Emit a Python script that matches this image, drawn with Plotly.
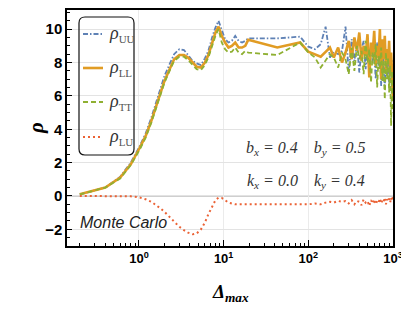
import plotly.graph_objects as go

# ---- data ----
delta_max = [0.2, 0.4, 0.6, 0.8, 1.0, 1.2, 1.4, 1.6, 1.8, 2.0, 2.3, 2.6, 3.0, 3.4, 3.8, 4.3, 4.8,
             5.4, 6.0, 6.6, 7.3, 8.0, 8.7, 9.5, 10.4, 11.4, 12.5, 13.7, 15, 16.5, 18, 19.5, 43, 80,
             100, 120, 140, 160, 180, 200, 225, 250,
             275, 300, 325, 350, 375, 400, 425, 450, 475, 500, 525, 550, 575, 600, 625,
             650, 675, 700, 725, 750, 775, 800, 825, 850, 875, 900, 925, 950, 975, 1000]

rho_LL = [0.1, 0.5, 1.1, 1.9, 2.8, 3.6, 4.5, 5.4, 6.2, 6.9, 7.6, 8.2, 8.45, 8.45, 8.3, 8.0, 7.75,
          7.7, 8.0, 8.45, 9.2, 9.8, 10.15, 9.6, 9.2, 8.9, 9.0, 9.2, 8.9, 8.9, 9.0, 9.36, 8.9, 9.2,
          8.65, 8.5, 8.35, 8.64, 8.9, 8.3, 8.9, 8.0,
          8.6, 9.3, 8.2, 9.5, 8.7, 9.8, 8.1, 9.0, 8.4, 9.7, 7.1, 9.2, 8.5, 9.9, 7.8,
          9.0, 8.3, 10.0, 7.0, 9.4, 8.2, 9.6, 7.5, 8.8, 7.9, 9.3, 7.2, 8.6, 6.8, 6.0]

rho_UU = [0.1, 0.5, 1.15, 2.0, 2.9, 3.75, 4.7, 5.6, 6.4, 7.2, 7.9, 8.5, 8.8, 8.75, 8.45, 8.1, 7.95,
          7.85, 8.25, 8.7, 9.5, 10.1, 10.5, 9.9, 9.4, 9.2, 9.3, 9.6, 9.3, 9.2, 9.3, 9.45, 9.45, 9.55,
          8.95, 8.8, 9.1, 10.15, 8.3, 8.65, 8.5, 8.7,
          10.15, 7.4, 9.4, 8.1, 9.2, 7.4, 8.8, 9.3, 7.6, 8.9, 7.3, 9.1, 8.0, 8.6, 7.0,
          9.2, 7.8, 8.4, 6.6, 8.9, 7.5, 6.4, 8.7, 7.2, 8.0, 6.8, 8.5, 7.4, 6.5, 8.2]

rho_TT = [0.1, 0.5, 1.05, 1.85, 2.7, 3.5, 4.4, 5.3, 6.1, 6.8, 7.5, 8.1, 8.35, 8.35, 8.15, 7.85, 7.6,
          7.55, 7.85, 8.3, 9.0, 9.6, 10.0, 9.2, 8.8, 8.6, 8.65, 8.9, 8.6, 8.5, 8.7, 8.6, 8.45, 9.2,
          8.6, 8.3, 7.7, 8.1, 8.5, 8.3, 7.7, 8.6,
          8.2, 7.3, 8.9, 7.5, 9.0, 8.2, 8.7, 7.3, 9.3, 8.0, 8.8, 6.8, 8.6, 7.9, 9.1,
          6.5, 8.4, 7.6, 8.9, 6.9, 8.1, 5.8, 8.6, 7.0, 8.3, 6.2, 7.8, 4.2, 7.5, 5.0]

rho_LU = [0.0, 0.0, 0.0, -0.02, -0.08, -0.2, -0.35, -0.55, -0.75, -0.95, -1.25, -1.55, -1.85, -2.05, -2.2, -2.3, -2.25,
          -2.0, -1.6, -1.1, -0.6, -0.25, -0.1, -0.12, -0.25, -0.4, -0.45, -0.5, -0.5, -0.5, -0.48, -0.5, -0.5, -0.5,
          -0.5, -0.45, -0.5, -0.4, -0.35, -0.4, -0.3, -0.35,
          -0.3, -0.45, -0.25, -0.5, -0.3, -0.35, -0.55, -0.2, -0.4, -0.3, -0.6, -0.25, -0.45, -0.2, -0.5,
          -0.3, -0.4, -0.15, -0.45, -0.25, -0.35, -0.1, -0.5, -0.2, -0.3, -0.15, -0.4, -0.1, -0.3, -0.05]

series_names = ["UU", "LL", "TT", "LU"]
x_tickvals = [1, 10, 100, 1000]
x_ticktext = ["10<sup>0</sup>", "10<sup>1</sup>", "10<sup>2</sup>", "10<sup>3</sup>"]
x_minor = [m * d for d in (0.1, 1, 10, 100) for m in range(2, 10)]
y_tickvals = [-2, 0, 2, 4, 6, 8, 10]

BLUE, ORANGE, GREEN, RED = "#5E81B5", "#E19C24", "#8FB032", "#EB6235"

# page has an 8px body margin: figure is drawn at (8,8) inside the 409x327 window
W, H = 401, 319
ML, MR, MT, MB = 59, 16, 2, 81
PW, PH = W - ML - MR, H - MT - MB   # 326 x 236


def px(xp):   # window x pixel -> paper x
    return (xp - 8 - ML) / PW


def py(yp):   # window y pixel -> paper y
    return (H - MB - (yp - 8)) / PH


fig = go.Figure()
styles = {
    "UU": (rho_UU, BLUE, "5px,2px,1.5px,2px", 1.8),
    "LL": (rho_LL, ORANGE, "solid", 2.6),
    "TT": (rho_TT, GREEN, "5px,3px", 1.8),
    "LU": (rho_LU, RED, "2px,3px", 2.0),
}
for name in series_names:
    ys, col, dash, w = styles[name]
    fig.add_trace(go.Scatter(
        x=delta_max, y=ys, mode="lines", name=name, showlegend=False,
        line=dict(color=col, dash=dash, width=w),
    ))

# manual legend inside a rounded frame (paper coords)
x0, x1, y0, y1 = px(79), px(134), py(155), py(17)
rx, ry = 6 / PW, 6 / PH
path = (f"M {x0+rx},{y0} L {x1-rx},{y0} Q {x1},{y0} {x1},{y0+ry} "
        f"L {x1},{y1-ry} Q {x1},{y1} {x1-rx},{y1} L {x0+rx},{y1} Q {x0},{y1} {x0},{y1-ry} "
        f"L {x0},{y0+ry} Q {x0},{y0} {x0+rx},{y0} Z")
fig.add_shape(type="path", path=path, xref="paper", yref="paper",
              line=dict(color="#111", width=1.2), fillcolor="rgba(255,255,255,0)")
leg_rows = [34, 68, 102, 137]
for name, yr in zip(series_names, leg_rows):
    _, col, dash, w = styles[name]
    fig.add_shape(type="line", xref="paper", yref="paper",
                  x0=px(83), x1=px(103), y0=py(yr), y1=py(yr),
                  line=dict(color=col, dash=dash, width=w))
    fig.add_annotation(x=px(107), y=py(yr), xref="paper", yref="paper", showarrow=False,
                       xanchor="left", yanchor="middle",
                       text=f"<i>ρ</i><sub><span style='font-size:11px;fill:#555'>{name}</span></sub>",
                       font=dict(family="Liberation Serif", size=18, color="#333"))

fig.add_hline(y=0, line=dict(color="#A0A0A0", width=1.2), layer="below")

fig.add_annotation(x=px(306), y=py(148), xref="paper", yref="paper", showarrow=False,
                   xanchor="center", yanchor="middle",
                   text="<i>b<sub>x</sub> = 0.4</i>&nbsp;&nbsp;&nbsp;&nbsp;<i>b<sub>y</sub> = 0.5</i>",
                   font=dict(family="Liberation Serif", size=16, color="#333"))
fig.add_annotation(x=px(306), y=py(181), xref="paper", yref="paper", showarrow=False,
                   xanchor="center", yanchor="middle",
                   text="<i>k<sub>x</sub> = 0.0</i>&nbsp;&nbsp;&nbsp;&nbsp;<i>k<sub>y</sub> = 0.4</i>",
                   font=dict(family="Liberation Serif", size=16, color="#333"))
fig.add_annotation(x=px(78), y=py(222), xref="paper", yref="paper", showarrow=False,
                   xanchor="left", yanchor="middle", text="<i>Monte Carlo</i>",
                   font=dict(family="Liberation Sans", size=16, color="#222"))
# axis titles
fig.add_annotation(x=px(36), y=py(128), xref="paper", yref="paper", showarrow=False,
                   xanchor="center", yanchor="middle", textangle=-90,
                   text="<b><i>ρ</i></b>",
                   font=dict(family="Liberation Serif", size=21, color="black"))
fig.add_annotation(x=px(230), y=py(293), xref="paper", yref="paper", showarrow=False,
                   xanchor="center", yanchor="middle",
                   text="<b><i>Δ<sub>max</sub></i></b>",
                   font=dict(family="Liberation Serif", size=19, color="black"))

fig.update_layout(
    width=W, height=H,
    margin=dict(l=ML, r=MR, t=MT, b=MB, autoexpand=False),
    paper_bgcolor="white", plot_bgcolor="white",
    showlegend=False,
    xaxis=dict(type="log", range=[-0.85, 3.0], automargin=False,
               tickvals=x_tickvals, ticktext=x_ticktext,
               tickfont=dict(family="Liberation Sans", size=13, color="black", weight="bold"),
               ticks="inside", ticklen=6, tickwidth=1, tickcolor="black",
               minor=dict(tickvals=x_minor, ticks="inside", ticklen=3, tickcolor="black", showgrid=False),
               showgrid=True, gridcolor="#EBEBEB", gridwidth=1,
               showline=True, linecolor="black", linewidth=1.5, mirror=True,
               zeroline=False),
    yaxis=dict(range=[-3.0, 11.15], automargin=False,
               tickvals=y_tickvals,
               tickfont=dict(family="Liberation Sans", size=15, color="black", weight="bold"),
               ticks="inside", ticklen=5, tickwidth=1, tickcolor="black",
               minor=dict(dtick=0.5, ticks="inside", ticklen=3, tickcolor="black", showgrid=False),
               showgrid=True, gridcolor="#E3E3E3", gridwidth=1,
               showline=True, linecolor="black", linewidth=1.5, mirror=True,
               zeroline=False),
)

fig.write_html("out.html")
